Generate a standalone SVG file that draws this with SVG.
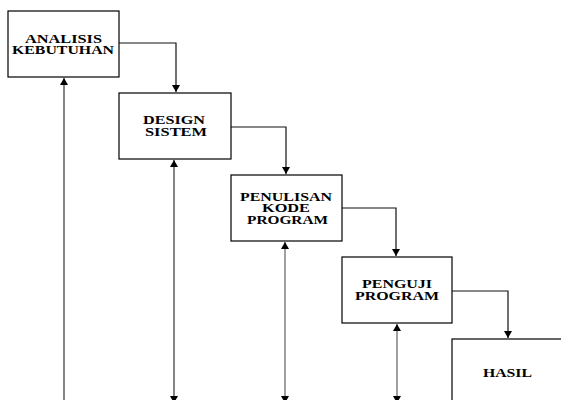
<svg xmlns="http://www.w3.org/2000/svg" width="561" height="400" viewBox="0 0 561 400">
<style>
.box{fill:#fff;stroke:#000;stroke-width:1.2}
.t{font-family:"Liberation Serif","Times New Roman",serif;font-weight:bold;font-size:11.5px;fill:#000;text-anchor:middle}
.c{fill:none;stroke:#111;stroke-width:1.2}
.g1{fill:none;stroke:#444;stroke-width:1.3}
.g2{fill:none;stroke:#888;stroke-width:1.6}
</style>
<defs>
<marker id="ah" markerUnits="userSpaceOnUse" markerWidth="8" markerHeight="8" refX="7" refY="4" orient="auto-start-reverse">
<path d="M0,0 L7,4 L0,8 Z" fill="#000"/>
</marker>
</defs>
<g id="connectors">
<path class="c" d="M119,43 H176 V92" marker-end="url(#ah)"/>
<path class="c" d="M231,127 H286 V174" marker-end="url(#ah)"/>
<path class="c" d="M342,208 H396 V256" marker-end="url(#ah)"/>
<path class="c" d="M452,291 H508 V338" marker-end="url(#ah)"/>
<path class="g1" d="M64,412 V78" marker-start="url(#ah)" marker-end="url(#ah)"/>
<path class="g1" d="M174,403 V160" marker-start="url(#ah)" marker-end="url(#ah)"/>
<path class="g2" d="M285,403 V242" marker-start="url(#ah)" marker-end="url(#ah)"/>
<path class="g2" d="M397,403 V324" marker-start="url(#ah)" marker-end="url(#ah)"/>
</g>
<g id="analisis">
<rect class="box" x="8" y="11" width="111" height="66"/>
<text class="t" x="63.5" y="43" textLength="77" lengthAdjust="spacingAndGlyphs">ANALISIS</text>
<text class="t" x="63" y="54" textLength="102" lengthAdjust="spacingAndGlyphs">KEBUTUHAN</text>
</g>
<g id="design">
<rect class="box" x="119" y="93" width="112" height="66"/>
<text class="t" x="174" y="124" textLength="62" lengthAdjust="spacingAndGlyphs">DESIGN</text>
<text class="t" x="176" y="136" textLength="62" lengthAdjust="spacingAndGlyphs">SISTEM</text>
</g>
<g id="penulisan">
<rect class="box" x="231" y="175" width="111" height="66"/>
<text class="t" x="286" y="201" textLength="92" lengthAdjust="spacingAndGlyphs">PENULISAN</text>
<text class="t" x="286" y="212" textLength="48" lengthAdjust="spacingAndGlyphs">KODE</text>
<text class="t" x="287.5" y="224" textLength="81" lengthAdjust="spacingAndGlyphs">PROGRAM</text>
</g>
<g id="penguji">
<rect class="box" x="342" y="257" width="110" height="66"/>
<text class="t" x="397" y="288" textLength="70" lengthAdjust="spacingAndGlyphs">PENGUJI</text>
<text class="t" x="397" y="300" textLength="84" lengthAdjust="spacingAndGlyphs">PROGRAM</text>
</g>
<g id="hasil">
<rect class="box" x="452" y="339" width="112" height="66"/>
<text class="t" x="507.5" y="377" textLength="49" lengthAdjust="spacingAndGlyphs">HASIL</text>
</g>
</svg>
